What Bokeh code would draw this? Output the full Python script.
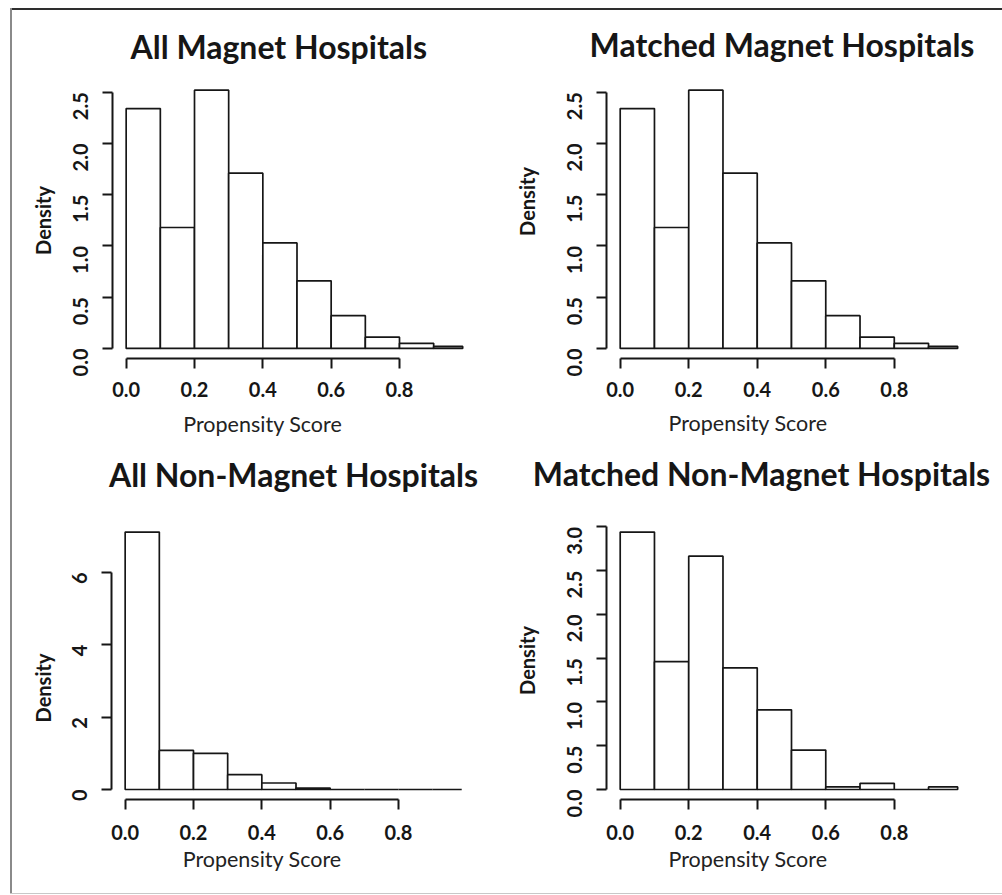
import math
from bokeh.plotting import figure
from bokeh.models import Range1d, FixedTicker, PrintfTickFormatter, Label, Div
from bokeh.layouts import column, row
from bokeh.embed import file_html
from bokeh.resources import INLINE

# ---------------- data ----------------
bin_edges = [0.0, 0.1, 0.2, 0.3, 0.4, 0.5, 0.6, 0.7, 0.8, 0.9, 0.985]
all_magnet = [2.34, 1.18, 2.52, 1.71, 1.03, 0.66, 0.32, 0.11, 0.05, 0.02]
matched_magnet = [2.34, 1.18, 2.52, 1.71, 1.03, 0.66, 0.32, 0.11, 0.05, 0.02]
all_non_magnet = [7.11, 1.08, 1.00, 0.41, 0.18, 0.04, 0.0, 0.0, 0.0, 0.0]
matched_non_magnet = [2.94, 1.46, 2.665, 1.39, 0.91, 0.45, 0.03, 0.07, 0.0, 0.03]

titles = ["All Magnet Hospitals", "Matched Magnet Hospitals",
          "All Non-Magnet Hospitals", "Matched Non-Magnet Hospitals"]
x_ticks = [0.0, 0.2, 0.4, 0.6, 0.8]
y_ticks_magnet = [0.0, 0.5, 1.0, 1.5, 2.0, 2.5]
y_ticks_all_non = [0, 2, 4, 6]
y_ticks_matched_non = [0.0, 0.5, 1.0, 1.5, 2.0, 2.5, 3.0]
x_label = "Propensity Score"
y_label = "Density"

FONT = "Lato"
INK = "#161616"
TITLE_PX = 32
YLAB_PX = 20
XLAB_PX = 21.5
TICK_PX = 20
MID = 0.36  # baseline -> middle of text box, in em


def panel(density, title, yticks, yfmt, origin, size, region, xstandoff,
          title_at, ylab_at, xlab_at):
    """origin: page position of the figure; size: (w, h);
    region: (left, right, top, bottom) margins of the R plot region inside the figure."""
    fx, fy = origin
    w, h = size
    left, right, top, bottom = region
    rw = w - left - right
    rh = h - top - bottom
    ymax = max(density)
    ux = 1.08 / rw
    uy = 1.08 * ymax / rh
    p = figure(width=w, height=h, output_backend="svg", toolbar_location=None, title=None,
               x_range=Range1d(-0.04 - left * ux, 1.04 + right * ux),
               y_range=Range1d(-0.04 * ymax - bottom * uy, 1.04 * ymax + top * uy),
               min_border=0, min_border_left=0, min_border_right=0,
               min_border_top=0, min_border_bottom=0,
               background_fill_color="white", border_fill_color="white")
    p.outline_line_color = None
    p.xgrid.visible = False
    p.ygrid.visible = False

    p.quad(left=bin_edges[:-1], right=bin_edges[1:], bottom=0, top=density,
           fill_color="white", line_color=INK, line_width=1.7)

    for ax in (p.xaxis[0], p.yaxis[0]):
        ax.axis_line_color = INK
        ax.axis_line_width = 2
        ax.major_tick_line_color = INK
        ax.major_tick_line_width = 2
        ax.major_tick_out = 10
        ax.major_tick_in = 0
        ax.minor_tick_out = 0
        ax.minor_tick_in = 0
        ax.major_label_text_font = FONT
        ax.major_label_text_font_size = f"{TICK_PX}px"
        ax.major_label_text_font_style = "bold"
        ax.major_label_text_color = INK

    p.xaxis.fixed_location = -0.04 * ymax
    p.xaxis.bounds = (x_ticks[0], x_ticks[-1])
    p.xaxis.ticker = FixedTicker(ticks=x_ticks)
    p.xaxis.formatter = PrintfTickFormatter(format="%.1f")
    p.xaxis.major_label_standoff = xstandoff

    p.yaxis.fixed_location = -0.04
    p.yaxis.bounds = (yticks[0], yticks[-1])
    p.yaxis.ticker = FixedTicker(ticks=yticks)
    p.yaxis.formatter = PrintfTickFormatter(format=yfmt)
    p.yaxis.major_label_orientation = math.pi / 2
    p.yaxis.major_label_standoff = 22

    def sx(px):
        return px - fx

    def sy(py):
        return fy + h - py

    # title: centre x, baseline y (page pixels)
    tx, tb = title_at
    p.add_layout(Label(x=sx(tx), y=sy(tb - MID * TITLE_PX), x_units="screen", y_units="screen",
                       text=title, text_font=FONT, text_font_size=f"{TITLE_PX}px",
                       text_font_style="bold", text_color=INK,
                       text_align="center", text_baseline="middle"))
    # y label: centre of text box (page pixels)
    yx, yy = ylab_at
    p.add_layout(Label(x=sx(yx), y=sy(yy), x_units="screen", y_units="screen",
                       text=y_label, text_font=FONT, text_font_size=f"{YLAB_PX}px",
                       text_font_style="bold", text_color=INK, angle=math.pi / 2,
                       text_align="center", text_baseline="middle"))
    # x label: centre x, baseline y
    lx, lb = xlab_at
    p.add_layout(Label(x=sx(lx), y=sy(lb - MID * XLAB_PX), x_units="screen", y_units="screen",
                       text=x_label, text_font=FONT, text_font_size=f"{XLAB_PX}px",
                       text_color="#222222",
                       text_align="center", text_baseline="middle"))
    return p


p1 = panel(all_magnet, titles[0], y_ticks_magnet, "%.1f", (12, 10), (489, 438),
           (100, 20, 69.3, 89.7), 13, (278.3, 57.3), (42, 220), (262.3, 431.7))
p2 = panel(matched_magnet, titles[1], y_ticks_magnet, "%.1f", (501, 10), (501, 438),
           (105, 26, 69.3, 89.7), 13, (781.5, 55.5), (526.7, 201), (747.5, 430))
p3 = panel(all_non_magnet, titles[2], y_ticks_all_non, "%d", (12, 448), (489, 438),
           (99, 21, 73.3, 86.7), 15, (293, 486), (42, 687.5), (261.7, 866))
p4 = panel(matched_non_magnet, titles[3], y_ticks_matched_non, "%.1f", (501, 448), (501, 438),
           (105, 26, 73.3, 86.7), 15, (761, 485), (526.7, 660), (747.5, 866.7))


def block(w, h, color="white"):
    return Div(text="", width=w, height=h, margin=0, styles={"background-color": color})


grid = column(row(p1, p2), row(p3, p4))
inner = column(block(990, 2, "#2e2e2e"), grid, block(990, 7))
middle = row(block(10, 885), block(2, 885, "#8a8a8a"), inner)
bottom = row(block(10, 1), block(992, 1, "#c8c8c8"))
layout = column(block(1002, 8), middle, bottom)

open("out.html", "w").write(file_html(layout, INLINE))
